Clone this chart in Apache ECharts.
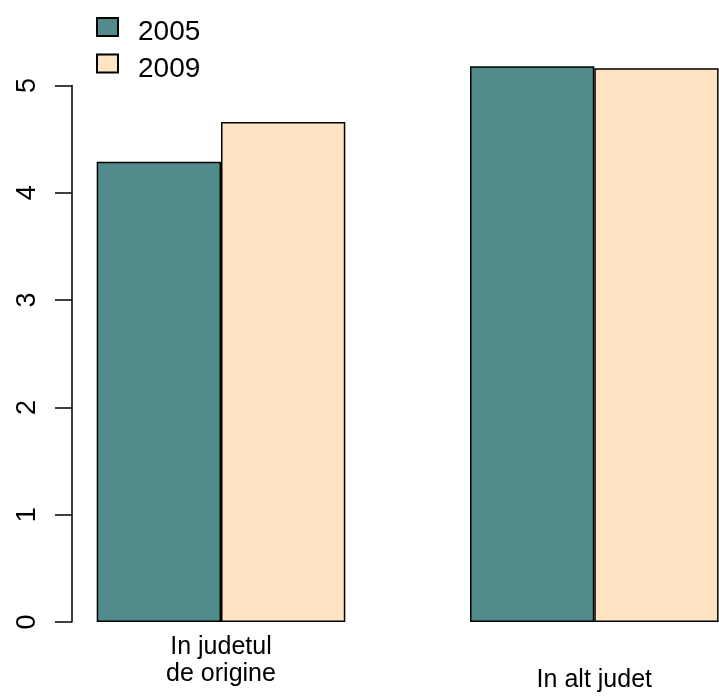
<!DOCTYPE html>
<html>
<head>
<meta charset="utf-8">
<script src="https://cdn.jsdelivr.net/npm/echarts@6/dist/echarts.min.js"></script>
<style>html,body{margin:0;padding:0;background:#fff;}#c{width:719px;height:696px;}</style>
</head>
<body>
<div id="c"></div>
<script>
const categories = ['In judetul\nde origine', 'In alt judet'];
const seriesNames = ['2005', '2009'];
const values2005 = [4.29, 5.18];
const values2009 = [4.66, 5.16];
const yMin = 0, yMax = 5, yStep = 1;

const FONT = 'Liberation Sans, Arial, sans-serif';
const colors = ['#528B8B', '#FFE4C4'];

const chart = echarts.init(document.getElementById('c'), null, {renderer: 'canvas'});
chart.setOption({
  animation: false,
  backgroundColor: '#fff',
  textStyle: {fontFamily: FONT},
  legend: {
    orient: 'vertical',
    left: 91,
    top: 11.9,
    itemWidth: 21,
    itemHeight: 18,
    itemGap: 7,
    icon: 'rect',
    data: seriesNames,
    formatter: '{t|{name}}',
    textStyle: {fontFamily: FONT, fontSize: 28, color: '#000', padding: [0, 0, 0, 15],
      rich: {t: {fontFamily: FONT, fontSize: 28, color: '#000', padding: [11, 0, 0, 0]}}}
  },
  grid: {left: 221, right: 124.7, top: 85.5, bottom: 74, containLabel: false, outerBoundsMode: 'none'},
  xAxis: {
    type: 'category',
    data: categories,
    boundaryGap: false,
    axisLine: {show: false},
    axisTick: {show: false},
    axisLabel: {
      fontFamily: FONT, fontSize: 25, color: '#000', lineHeight: 27,
      verticalAlign: 'top', margin: 12,
      formatter: function (v) { return v.indexOf('\n') >= 0 ? v : '{s|' + v + '}'; },
      rich: {s: {fontFamily: FONT, fontSize: 25, color: '#000', lineHeight: 93}}
    }
  },
  yAxis: {
    type: 'value',
    min: yMin, max: yMax, interval: yStep,
    position: 'left',
    offset: 149,
    splitLine: {show: false},
    axisLine: {show: true, lineStyle: {color: '#000', width: 1.5}},
    axisTick: {show: true, length: 17, lineStyle: {color: '#000', width: 1.5}},
    axisLabel: {fontFamily: FONT, fontSize: 27, color: '#000', rotate: 90, margin: 31}
  },
  series: [
    {name: seriesNames[0], type: 'bar', data: values2005, barWidth: 124.3, barGap: '0%', clip: false,
     itemStyle: {color: colors[0], borderColor: '#000', borderWidth: 1.5}},
    {name: seriesNames[1], type: 'bar', data: values2009, barWidth: 124.3, barGap: '0%', clip: false,
     itemStyle: {color: colors[1], borderColor: '#000', borderWidth: 1.5}}
  ]
});
</script>
</body>
</html>
